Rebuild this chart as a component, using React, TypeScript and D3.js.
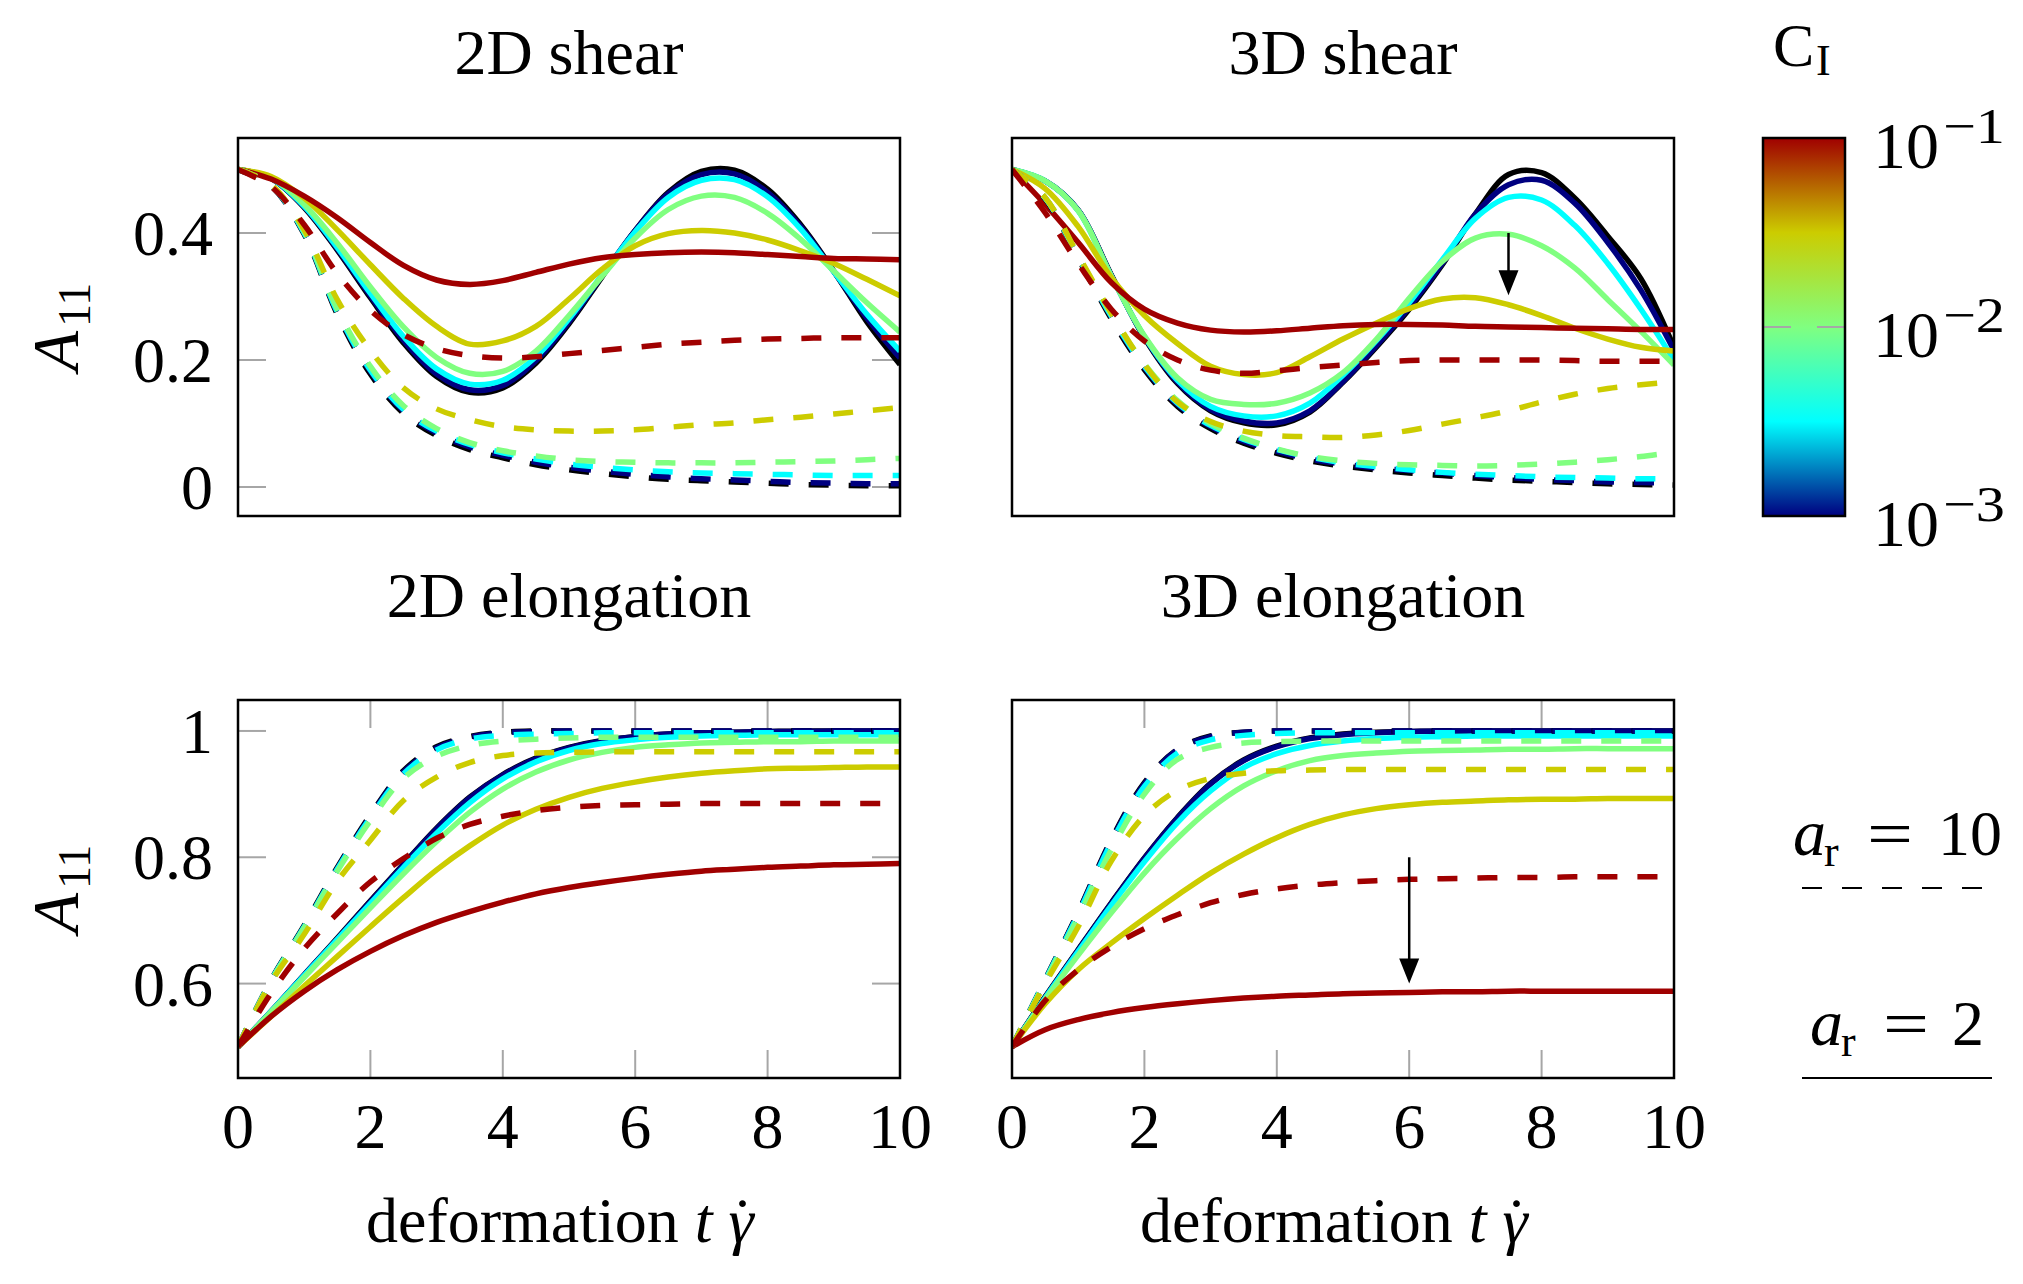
import React from 'react';
import * as d3 from 'd3';

const W = 2023;
const H = 1284;

// deformation grid t*gamma_dot
const tGrid = [0, 0.5, 1, 1.5, 2, 2.5, 3, 3.5, 4, 4.5, 5, 5.5, 6, 6.5, 7, 7.5, 8, 8.5, 9, 9.5, 10];
const xTicks = [0, 2, 4, 6, 8, 10];

// interaction coefficient series (order: 0, 1e-3, 10^-2.5, 1e-2, 10^-1.5, 1e-1)
const ciSeries = ['0', '1e-3', '10^-2.5', '1e-2', '10^-1.5', '1e-1'];
const ciColors = ['#000000', '#000080', '#00ffff', '#80ff80', '#cccc00', '#a00000'];
const colorbarStops: [number, string][] = [[0, '#000080'], [0.25, '#00ffff'], [0.5, '#80ff80'], [0.75, '#cccc00'], [1, '#a00000']];
const colorbarTicks = [-3, -2, -1];

// ---- 2D shear ----
const shear2dAr2 = [
  [0.5, 0.486, 0.44, 0.373, 0.298, 0.227, 0.174, 0.149, 0.156, 0.195, 0.257, 0.331, 0.404, 0.464, 0.497, 0.499, 0.469, 0.413, 0.34, 0.26, 0.193],
  [0.5, 0.486, 0.441, 0.375, 0.301, 0.231, 0.178, 0.153, 0.16, 0.199, 0.26, 0.333, 0.404, 0.462, 0.492, 0.493, 0.464, 0.41, 0.339, 0.266, 0.203],
  [0.5, 0.486, 0.442, 0.377, 0.305, 0.237, 0.186, 0.162, 0.168, 0.205, 0.265, 0.334, 0.402, 0.456, 0.483, 0.484, 0.457, 0.406, 0.339, 0.272, 0.214],
  [0.5, 0.487, 0.445, 0.384, 0.315, 0.252, 0.204, 0.179, 0.182, 0.214, 0.27, 0.332, 0.392, 0.437, 0.458, 0.456, 0.431, 0.39, 0.34, 0.29, 0.244],
  [0.5, 0.489, 0.455, 0.405, 0.35, 0.297, 0.253, 0.225, 0.23, 0.253, 0.296, 0.343, 0.38, 0.399, 0.404, 0.4, 0.389, 0.372, 0.352, 0.327, 0.301],
  [0.5, 0.485, 0.458, 0.424, 0.385, 0.349, 0.326, 0.319, 0.325, 0.338, 0.351, 0.361, 0.366, 0.369, 0.37, 0.369, 0.366, 0.363, 0.36, 0.359, 0.358],
];
const shear2dAr10 = [
  [0.5, 0.474, 0.398, 0.272, 0.178, 0.116, 0.081, 0.059, 0.046, 0.035, 0.027, 0.021, 0.016, 0.012, 0.01, 0.008, 0.006, 0.004, 0.003, 0.002, 0.002],
  [0.5, 0.475, 0.4, 0.275, 0.182, 0.12, 0.085, 0.063, 0.05, 0.039, 0.031, 0.025, 0.02, 0.016, 0.013, 0.011, 0.009, 0.007, 0.006, 0.005, 0.005],
  [0.5, 0.475, 0.4, 0.276, 0.184, 0.122, 0.088, 0.067, 0.054, 0.044, 0.036, 0.031, 0.027, 0.024, 0.022, 0.021, 0.02, 0.019, 0.018, 0.018, 0.018],
  [0.5, 0.476, 0.402, 0.28, 0.19, 0.128, 0.092, 0.07, 0.057, 0.049, 0.043, 0.04, 0.039, 0.038, 0.038, 0.038, 0.039, 0.04, 0.041, 0.043, 0.045],
  [0.5, 0.476, 0.405, 0.295, 0.215, 0.156, 0.123, 0.106, 0.095, 0.09, 0.088, 0.088, 0.09, 0.094, 0.098, 0.101, 0.106, 0.11, 0.115, 0.12, 0.125],
  [0.5, 0.473, 0.413, 0.336, 0.278, 0.24, 0.218, 0.207, 0.203, 0.205, 0.21, 0.215, 0.22, 0.225, 0.228, 0.231, 0.233, 0.234, 0.235, 0.235, 0.235],
];

// ---- 3D shear ----
const shear3dAr2 = [
  [0.5, 0.482, 0.436, 0.334, 0.235, 0.163, 0.12, 0.101, 0.098, 0.118, 0.165, 0.22, 0.28, 0.35, 0.43, 0.492, 0.495, 0.455, 0.395, 0.328, 0.22],
  [0.5, 0.482, 0.436, 0.333, 0.236, 0.165, 0.122, 0.104, 0.101, 0.12, 0.166, 0.222, 0.283, 0.352, 0.43, 0.476, 0.483, 0.447, 0.385, 0.31, 0.215],
  [0.5, 0.482, 0.435, 0.332, 0.237, 0.168, 0.127, 0.112, 0.112, 0.132, 0.176, 0.23, 0.29, 0.358, 0.423, 0.456, 0.452, 0.412, 0.352, 0.28, 0.2],
  [0.5, 0.482, 0.435, 0.332, 0.238, 0.172, 0.138, 0.13, 0.132, 0.148, 0.18, 0.232, 0.297, 0.355, 0.392, 0.398, 0.38, 0.345, 0.295, 0.245, 0.192],
  [0.5, 0.47, 0.41, 0.33, 0.27, 0.226, 0.19, 0.177, 0.18, 0.205, 0.233, 0.258, 0.281, 0.296, 0.298, 0.287, 0.27, 0.25, 0.233, 0.22, 0.214],
  [0.5, 0.445, 0.385, 0.322, 0.28, 0.258, 0.247, 0.244, 0.246, 0.25, 0.254, 0.256, 0.256, 0.255, 0.253, 0.252, 0.251, 0.25, 0.249, 0.248, 0.248],
];
const shear3dAr10 = [
  [0.5, 0.454, 0.36, 0.265, 0.185, 0.127, 0.092, 0.069, 0.053, 0.041, 0.033, 0.027, 0.022, 0.018, 0.014, 0.011, 0.009, 0.007, 0.005, 0.004, 0.003],
  [0.5, 0.455, 0.362, 0.268, 0.188, 0.13, 0.095, 0.072, 0.056, 0.044, 0.036, 0.03, 0.026, 0.022, 0.018, 0.015, 0.012, 0.01, 0.008, 0.007, 0.006],
  [0.5, 0.455, 0.362, 0.269, 0.19, 0.132, 0.097, 0.075, 0.059, 0.047, 0.038, 0.032, 0.027, 0.023, 0.02, 0.018, 0.016, 0.015, 0.014, 0.013, 0.013],
  [0.5, 0.456, 0.364, 0.272, 0.194, 0.136, 0.1, 0.077, 0.06, 0.048, 0.041, 0.037, 0.035, 0.034, 0.033, 0.034, 0.036, 0.039, 0.043, 0.048, 0.055],
  [0.5, 0.456, 0.365, 0.274, 0.193, 0.134, 0.103, 0.088, 0.081, 0.079, 0.078, 0.082, 0.089, 0.099, 0.109, 0.12, 0.134, 0.146, 0.155, 0.161, 0.166],
  [0.5, 0.432, 0.352, 0.28, 0.23, 0.2, 0.184, 0.179, 0.183, 0.188, 0.192, 0.196, 0.199, 0.2, 0.2, 0.2, 0.2, 0.199, 0.198, 0.198, 0.198],
];

// ---- 2D elongation ----
const elong2dAr2 = [
  [0.5, 0.556, 0.614, 0.672, 0.731, 0.789, 0.846, 0.895, 0.931, 0.957, 0.974, 0.985, 0.991, 0.995, 0.997, 0.998, 0.999, 1.0, 1.0, 1.0, 1.0],
  [0.5, 0.556, 0.614, 0.671, 0.73, 0.788, 0.845, 0.894, 0.93, 0.956, 0.973, 0.984, 0.991, 0.995, 0.997, 0.998, 0.999, 0.999, 1.0, 1.0, 1.0],
  [0.5, 0.556, 0.613, 0.67, 0.727, 0.784, 0.838, 0.886, 0.924, 0.951, 0.969, 0.98, 0.986, 0.99, 0.992, 0.993, 0.994, 0.994, 0.994, 0.994, 0.994],
  [0.5, 0.555, 0.61, 0.665, 0.72, 0.774, 0.825, 0.871, 0.908, 0.935, 0.954, 0.966, 0.974, 0.978, 0.981, 0.982, 0.983, 0.983, 0.984, 0.984, 0.984],
  [0.5, 0.548, 0.596, 0.643, 0.69, 0.736, 0.78, 0.818, 0.851, 0.876, 0.895, 0.909, 0.919, 0.927, 0.933, 0.937, 0.94, 0.941, 0.942, 0.943, 0.943],
  [0.5, 0.548, 0.588, 0.622, 0.651, 0.676, 0.697, 0.714, 0.729, 0.742, 0.752, 0.76, 0.767, 0.773, 0.778, 0.781, 0.784, 0.786, 0.788, 0.789, 0.79],
];
const elong2dAr10 = [
  [0.5, 0.606, 0.692, 0.784, 0.867, 0.937, 0.975, 0.991, 0.998, 1.0, 1.0, 1.0, 1.0, 1.0, 1.0, 1.0, 1.0, 1.0, 1.0, 1.0, 1.0],
  [0.5, 0.605, 0.69, 0.782, 0.865, 0.935, 0.973, 0.99, 0.997, 0.999, 1.0, 1.0, 1.0, 1.0, 1.0, 1.0, 1.0, 1.0, 1.0, 1.0, 1.0],
  [0.5, 0.605, 0.69, 0.781, 0.863, 0.932, 0.97, 0.987, 0.993, 0.995, 0.996, 0.997, 0.997, 0.997, 0.997, 0.997, 0.997, 0.997, 0.997, 0.997, 0.997],
  [0.5, 0.604, 0.688, 0.778, 0.858, 0.925, 0.96, 0.977, 0.984, 0.987, 0.989, 0.99, 0.99, 0.99, 0.99, 0.99, 0.99, 0.99, 0.99, 0.99, 0.99],
  [0.5, 0.602, 0.678, 0.762, 0.827, 0.89, 0.927, 0.95, 0.961, 0.965, 0.966, 0.967, 0.967, 0.967, 0.967, 0.967, 0.967, 0.967, 0.967, 0.967, 0.967],
  [0.5, 0.585, 0.655, 0.711, 0.761, 0.798, 0.83, 0.852, 0.865, 0.874, 0.879, 0.882, 0.883, 0.884, 0.885, 0.885, 0.885, 0.885, 0.885, 0.885, 0.885],
];

// ---- 3D elongation ----
const elong3dAr2 = [
  [0.5, 0.579, 0.654, 0.728, 0.799, 0.863, 0.917, 0.954, 0.976, 0.989, 0.995, 0.998, 0.999, 1.0, 1.0, 1.0, 1.0, 1.0, 1.0, 1.0, 1.0],
  [0.5, 0.578, 0.653, 0.727, 0.798, 0.862, 0.916, 0.953, 0.975, 0.988, 0.994, 0.997, 0.999, 1.0, 1.0, 1.0, 1.0, 1.0, 1.0, 1.0, 1.0],
  [0.5, 0.577, 0.651, 0.724, 0.793, 0.855, 0.905, 0.942, 0.964, 0.977, 0.984, 0.988, 0.99, 0.991, 0.992, 0.992, 0.992, 0.992, 0.992, 0.992, 0.992],
  [0.5, 0.575, 0.645, 0.712, 0.775, 0.83, 0.877, 0.913, 0.937, 0.953, 0.961, 0.965, 0.968, 0.969, 0.97, 0.971, 0.971, 0.972, 0.972, 0.972, 0.972],
  [0.5, 0.568, 0.622, 0.664, 0.703, 0.74, 0.775, 0.805, 0.831, 0.852, 0.867, 0.877, 0.883, 0.887, 0.889, 0.891, 0.892, 0.892, 0.893, 0.893, 0.893],
  [0.5, 0.527, 0.543, 0.554, 0.562, 0.568, 0.573, 0.577, 0.58, 0.582, 0.584, 0.585, 0.586, 0.587, 0.587, 0.588, 0.588, 0.588, 0.588, 0.588, 0.588],
];
const elong3dAr10 = [
  [0.5, 0.606, 0.713, 0.828, 0.918, 0.971, 0.992, 0.998, 1.0, 1.0, 1.0, 1.0, 1.0, 1.0, 1.0, 1.0, 1.0, 1.0, 1.0, 1.0, 1.0],
  [0.5, 0.605, 0.712, 0.826, 0.916, 0.97, 0.991, 0.998, 1.0, 1.0, 1.0, 1.0, 1.0, 1.0, 1.0, 1.0, 1.0, 1.0, 1.0, 1.0, 1.0],
  [0.5, 0.605, 0.71, 0.823, 0.912, 0.965, 0.986, 0.993, 0.996, 0.997, 0.997, 0.997, 0.997, 0.997, 0.997, 0.997, 0.997, 0.997, 0.997, 0.997, 0.997],
  [0.5, 0.603, 0.705, 0.812, 0.9, 0.955, 0.974, 0.981, 0.983, 0.984, 0.984, 0.984, 0.984, 0.984, 0.984, 0.984, 0.984, 0.984, 0.984, 0.984, 0.984],
  [0.5, 0.6, 0.69, 0.794, 0.866, 0.906, 0.925, 0.933, 0.937, 0.938, 0.939, 0.939, 0.939, 0.939, 0.939, 0.939, 0.939, 0.939, 0.939, 0.939, 0.939],
  [0.5, 0.573, 0.622, 0.658, 0.687, 0.709, 0.728, 0.741, 0.75, 0.756, 0.76, 0.763, 0.765, 0.766, 0.767, 0.768, 0.768, 0.769, 0.769, 0.769, 0.769],
];

// arrow annotations: [x, yFrom, yTo]
const arrowShear3d = [7.5, 0.4, 0.302];
const arrowElong3d = [6, 0.8, 0.6];

const shearYTicks = [0, 0.2, 0.4];
const elongYTicks = [0.6, 0.8, 1];

const FONT = "'Liberation Serif', 'DejaVu Serif', serif";
const GRID_GREY = '#a6a6a6';

type PanelProps = {
  id: string;
  title: string;
  titleY: number;
  x0: number;
  y0: number;
  solid: number[][];
  dashed: number[][];
  yDomain: [number, number];
  yTicks: number[];
  showYTicks: boolean;
  showYLabels: boolean;
  showXTicks: boolean;
  showXLabels: boolean;
  arrow?: number[];
};

const PW = 662;
const PH = 378;

function Panel(p: PanelProps) {
  const x = d3.scaleLinear().domain([0, 10]).range([p.x0, p.x0 + PW]);
  const y = d3.scaleLinear().domain(p.yDomain).range([p.y0 + PH, p.y0]);
  const line = d3
    .line<number>()
    .x((_, i) => x(tGrid[i]))
    .y((d) => y(d))
    .curve(d3.curveCatmullRom.alpha(0.5));
  const tickLen = 28;
  const cx = p.x0 + PW / 2;
  const xlY = p.y0 + PH + 164;
  return (
    <g>
      <defs>
        <clipPath id={`clip-${p.id}`}>
          <rect x={p.x0} y={p.y0} width={PW} height={PH} />
        </clipPath>
      </defs>
      <text x={cx} y={p.titleY} textAnchor="middle" fontSize={64} fontFamily={FONT}>
        {p.title}
      </text>
      {p.showYTicks &&
        p.yTicks.map((v) => (
          <g key={`yt${v}`}>
            <line x1={p.x0} x2={p.x0 + tickLen} y1={y(v)} y2={y(v)} stroke={GRID_GREY} strokeWidth={2} />
            <line x1={p.x0 + PW - tickLen} x2={p.x0 + PW} y1={y(v)} y2={y(v)} stroke={GRID_GREY} strokeWidth={2} />
          </g>
        ))}
      {p.showXTicks &&
        xTicks
          .filter((v) => v > 0 && v < 10)
          .map((v) => (
            <g key={`xt${v}`}>
              <line x1={x(v)} x2={x(v)} y1={p.y0} y2={p.y0 + tickLen} stroke={GRID_GREY} strokeWidth={2} />
              <line x1={x(v)} x2={x(v)} y1={p.y0 + PH - tickLen} y2={p.y0 + PH} stroke={GRID_GREY} strokeWidth={2} />
            </g>
          ))}
      <g clipPath={`url(#clip-${p.id})`}>
        {p.solid.map((s, i) => (
          <path key={`s${i}`} d={line(s) || ''} fill="none" stroke={ciColors[i]} strokeWidth={5.5} />
        ))}
        {p.dashed.map((s, i) => (
          <path key={`d${i}`} d={line(s) || ''} fill="none" stroke={ciColors[i]} strokeWidth={5.5} strokeDasharray="20 20" />
        ))}
      </g>
      {p.arrow && (
        <g>
          <line x1={x(p.arrow[0])} x2={x(p.arrow[0])} y1={y(p.arrow[1])} y2={y(p.arrow[2]) - 20} stroke="#000" strokeWidth={2.5} />
          <polygon
            points={`${x(p.arrow[0]) - 10},${y(p.arrow[2]) - 25} ${x(p.arrow[0]) + 10},${y(p.arrow[2]) - 25} ${x(p.arrow[0])},${y(p.arrow[2])}`}
            fill="#000"
          />
        </g>
      )}
      <rect x={p.x0} y={p.y0} width={PW} height={PH} fill="none" stroke="#000" strokeWidth={2.5} />
      {p.showYLabels &&
        p.yTicks.map((v) => (
          <text key={`yl${v}`} x={p.x0 - 25} y={y(v) + 22} textAnchor="end" fontSize={64} fontFamily={FONT}>
            {String(v)}
          </text>
        ))}
      {p.showYLabels && (
        <text transform={`translate(78,${p.y0 + PH / 2}) rotate(-90)`} textAnchor="middle" fontSize={66} fontFamily={FONT}>
          <tspan fontStyle="italic">A</tspan>
          <tspan fontSize={46} dy={12} dx={4}>11</tspan>
        </text>
      )}
      {p.showXLabels &&
        xTicks.map((v) => (
          <text key={`xl${v}`} x={x(v)} y={p.y0 + PH + 70} textAnchor="middle" fontSize={64} fontFamily={FONT}>
            {String(v)}
          </text>
        ))}
      {p.showXLabels && (
        <text x={cx - 203} y={xlY} fontSize={64} fontFamily={FONT}>
          {'deformation '}
          <tspan fontStyle="italic">t</tspan>
          {' '}
          <tspan fontStyle="italic">{'\u03B3'}</tspan>
          <tspan dx={-22}>{'\u02D9'}</tspan>
        </text>
      )}
    </g>
  );
}

function Colorbar() {
  const x0 = 1763;
  const w = 82;
  const y0 = 138;
  const h = 378;
  const cy = d3.scaleLinear().domain([-3, -1]).range([y0 + h, y0]);
  return (
    <g>
      <defs>
        <linearGradient id="cbar" x1="0" y1="1" x2="0" y2="0">
          {colorbarStops.map(([o, c]) => (
            <stop key={o} offset={o} stopColor={c} />
          ))}
        </linearGradient>
      </defs>
      <rect x={x0} y={y0} width={w} height={h} fill="url(#cbar)" />
      {colorbarTicks
        .filter((v) => v > -3 && v < -1)
        .map((v) => (
          <g key={`cbt${v}`}>
            <line x1={x0} x2={x0 + 28} y1={cy(v)} y2={cy(v)} stroke={GRID_GREY} strokeWidth={2} />
            <line x1={x0 + w - 28} x2={x0 + w} y1={cy(v)} y2={cy(v)} stroke={GRID_GREY} strokeWidth={2} />
          </g>
        ))}
      <rect x={x0} y={y0} width={w} height={h} fill="none" stroke="#000" strokeWidth={2.5} />
      {colorbarTicks.map((v) => (
        <g key={`cbl${v}`}>
          <text x={x0 + 110} y={cy(v) + 30} fontSize={66} fontFamily={FONT}>
            10
          </text>
          <text x={x0 + 180} y={cy(v) + 5} fontSize={50} fontFamily={FONT} textLength={62} lengthAdjust="spacingAndGlyphs">
            {`\u2212${-v}`}
          </text>
        </g>
      ))}
      <text x={1773} y={66} fontSize={62} fontFamily={FONT}>
        C
      </text>
      <text x={1816} y={75} fontSize={44} fontFamily={FONT}>
        I
      </text>
    </g>
  );
}

function Legend() {
  return (
    <g fontFamily={FONT}>
      <text x={1793} y={855} fontSize={66} fontStyle="italic">a</text>
      <text x={1824} y={866} fontSize={44}>r</text>
      <text x={1867} y={855} fontSize={64} textLength={46} lengthAdjust="spacingAndGlyphs">=</text>
      <text x={1970} y={855} fontSize={64} textAnchor="middle">10</text>
      <line x1={1802} x2={1982} y1={888} y2={888} stroke="#000" strokeWidth={2} strokeDasharray="20 20" />
      <text x={1810} y={1045} fontSize={66} fontStyle="italic">a</text>
      <text x={1841} y={1056} fontSize={44}>r</text>
      <text x={1883} y={1045} fontSize={64} textLength={46} lengthAdjust="spacingAndGlyphs">=</text>
      <text x={1968} y={1045} fontSize={64} textAnchor="middle">2</text>
      <line x1={1802} x2={1992} y1={1078} y2={1078} stroke="#000" strokeWidth={2} />
    </g>
  );
}

export default function App() {
  const topDomain: [number, number] = [-0.0457, 0.5496];
  const botDomain: [number, number] = [0.4505, 1.049];
  return (
    <svg
      width={W}
      height={H}
      viewBox={`0 0 ${W} ${H}`}
      style={{ position: 'absolute', left: 0, top: 0, background: '#fff' }}
      xmlns="http://www.w3.org/2000/svg"
    >
      <rect x={0} y={0} width={W} height={H} fill="#fff" />
      <Panel id="tl" title="2D shear" titleY={74} x0={238} y0={138} solid={shear2dAr2} dashed={shear2dAr10} yDomain={topDomain} yTicks={shearYTicks}
        showYTicks={true} showYLabels={true} showXTicks={false} showXLabels={false} />
      <Panel id="tr" title="3D shear" titleY={74} x0={1012} y0={138} solid={shear3dAr2} dashed={shear3dAr10} yDomain={topDomain} yTicks={shearYTicks}
        showYTicks={false} showYLabels={false} showXTicks={false} showXLabels={false} arrow={arrowShear3d} />
      <Panel id="bl" title="2D elongation" titleY={617} x0={238} y0={700} solid={elong2dAr2} dashed={elong2dAr10} yDomain={botDomain} yTicks={elongYTicks}
        showYTicks={true} showYLabels={true} showXTicks={true} showXLabels={true} />
      <Panel id="br" title="3D elongation" titleY={617} x0={1012} y0={700} solid={elong3dAr2} dashed={elong3dAr10} yDomain={botDomain} yTicks={elongYTicks}
        showYTicks={false} showYLabels={false} showXTicks={true} showXLabels={true} arrow={arrowElong3d} />
      <Colorbar />
      <Legend />
    </svg>
  );
}
